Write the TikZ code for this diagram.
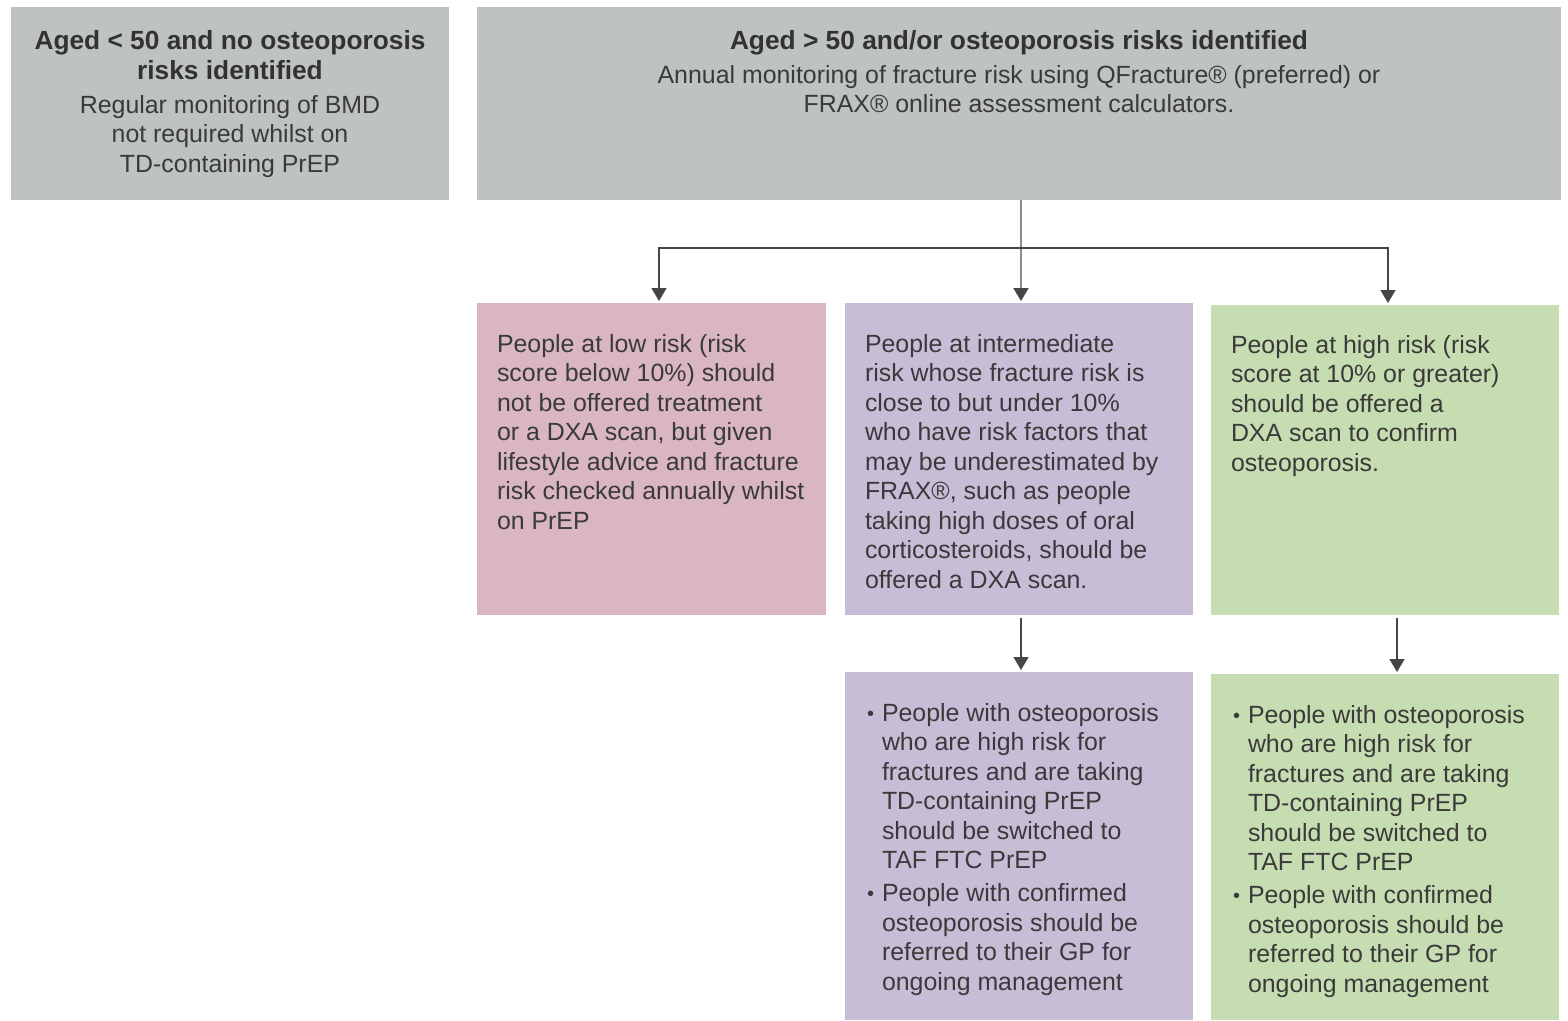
\documentclass[tikz,border=0pt]{standalone}
\usepackage{fontspec}
\setmainfont{Liberation Sans}
\usetikzlibrary{arrows.meta}
\definecolor{greybox}{RGB}{190,194,194}
\definecolor{pinkbox}{RGB}{217,182,193}
\definecolor{purplebox}{RGB}{199,189,215}
\definecolor{greenbox}{RGB}{198,221,178}
\definecolor{textc}{RGB}{58,58,58}
\definecolor{titlec}{RGB}{50,50,50}
\definecolor{linec}{RGB}{70,70,70}
\definecolor{lightline}{RGB}{140,140,140}
\newcommand\regfont{\fontsize{24.9}{29.5}\selectfont}
\newcommand\ttlfont{\fontsize{26.3}{30}\selectfont\bfseries}
\newcommand\bul{\llap{{\fontsize{20}{20}\selectfont\raisebox{1pt}{•}}\hspace{8pt}}}
\begin{document}
\begin{tikzpicture}[x=1pt,y=-1pt,
  box/.style={draw=none, inner sep=0pt, outer sep=0pt, anchor=north west},
  txt/.style={inner sep=0pt, outer sep=0pt, anchor=north west, align=left, text=textc, font=\regfont},
  ctxt/.style={inner sep=0pt, outer sep=0pt, anchor=north, align=center, text=textc, font=\regfont},
  ttl/.style={inner sep=0pt, outer sep=0pt, anchor=north, align=center, text=titlec, font=\ttlfont},
  arr/.style={draw=linec, line width=1.5pt, -{Triangle[width=15pt,length=13pt,color=linec]}, shorten >=2pt},
  conn/.style={draw=linec, line width=1.5pt}
]
\useasboundingbox (0,0) rectangle (1568,1020);
\fill[white] (0,0) rectangle (1568,1020);

% boxes
\node[box, fill=greybox, minimum width=438pt, minimum height=193pt] (A) at (11,7) {};
\node[box, fill=greybox, minimum width=1084pt, minimum height=193pt] (B) at (477,7) {};
\node[box, fill=pinkbox, minimum width=349pt, minimum height=312pt] (low) at (477,303) {};
\node[box, fill=purplebox, minimum width=348pt, minimum height=312pt] (mid) at (845,303) {};
\node[box, fill=greenbox, minimum width=348pt, minimum height=310pt] (high) at (1211,305) {};
\node[box, fill=purplebox, minimum width=348pt, minimum height=348pt] (lmid) at (845,672) {};
\node[box, fill=greenbox, minimum width=348pt, minimum height=346pt] (lhigh) at (1211,674) {};

% texts in grey boxes
\node[ttl] (Atitle) at (230,28) {\strut Aged < 50 and no osteoporosis\\risks identified};
\node[ctxt] (Abody) at (230,92.35) {\strut Regular monitoring of BMD\\not required whilst on\\TD-containing PrEP};
\node[ttl] (Btitle) at (1019,28) {\strut Aged > 50 and/or osteoporosis risks identified};
\node[ctxt] (Bbody) at (1019,62.35) {\strut Annual monitoring of fracture risk using QFracture® (preferred) or\\FRAX® online assessment calculators.};

% texts in coloured boxes
\node[txt] (lowtxt) at (497,331.35) {\strut People at low risk (risk\\score below 10\%) should\\not be offered treatment\\or a DXA scan, but given\\lifestyle advice and fracture\\risk checked annually whilst\\on PrEP};
\node[txt] (midtxt) at (865,331.35) {\strut People at intermediate\\risk whose fracture risk is\\close to but under 10\%\\who have risk factors that\\may be underestimated by\\FRAX®, such as people\\taking high doses of oral\\corticosteroids, should be\\offered a DXA scan.};
\node[txt] (hightxt) at (1231,332.35) {\strut People at high risk (risk\\score at 10\% or greater)\\should be offered a\\DXA scan to confirm\\osteoporosis.};
\node[txt] (lmidtxt) at (882,700.35) {\strut\bul People with osteoporosis\\who are high risk for\\fractures and are taking\\TD-containing PrEP\\should be switched to\\TAF FTC PrEP\\[3.5pt]\bul People with confirmed\\osteoporosis should be\\referred to their GP for\\ongoing management};
\node[txt] (lhightxt) at (1248,702.35) {\strut\bul People with osteoporosis\\who are high risk for\\fractures and are taking\\TD-containing PrEP\\should be switched to\\TAF FTC PrEP\\[3.5pt]\bul People with confirmed\\osteoporosis should be\\referred to their GP for\\ongoing management};

% connectors
\coordinate (split) at (1021,248);
\draw[arr, draw=lightline, line width=2pt] (B.south -| split) -- (split |- mid.north);
\draw[arr] (split) -| ([xshift=7.5pt]low.north);
\draw[arr] (split) -| ([xshift=3pt]high.north);
\draw[arr] ([xshift=2pt,yshift=-3pt]mid.south) -- ([xshift=2pt]lmid.north);
\draw[arr] ([xshift=12pt,yshift=-3pt]high.south) -- ([xshift=12pt]lhigh.north);
\end{tikzpicture}
\end{document}
